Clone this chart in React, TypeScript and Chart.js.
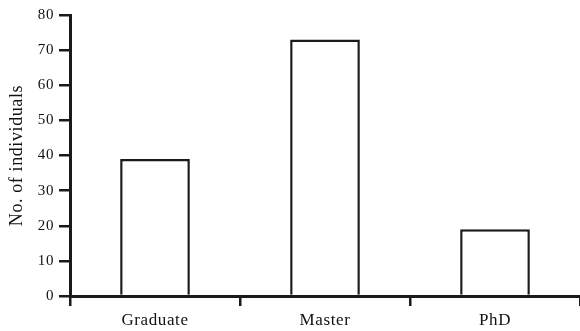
import React, { useEffect, useRef } from "react";
import { Chart, registerables } from "chart.js";

Chart.register(...registerables);

const categories = ["Graduate", "Master", "PhD"];
const counts = [39, 73, 19];
const yTicks = [0, 10, 20, 30, 40, 50, 60, 70, 80];

const spacingPlugin = {
  id: "spacing",
  beforeDraw(chart: any) {
    try {
      (chart.ctx as any).letterSpacing = "0.6px";
    } catch (e) {}
  },
};

export default function App() {
  const ref = useRef<HTMLCanvasElement | null>(null);
  useEffect(() => {
    if (!ref.current) return;
    const font = "'Liberation Serif', 'Times New Roman', serif";
    const chart = new Chart(ref.current, {
      type: "bar",
      data: {
        labels: categories,
        datasets: [
          {
            data: counts,
            backgroundColor: "#ffffff",
            borderColor: "#1a1a1a",
            borderWidth: 2.5,
            categoryPercentage: 1,
            barPercentage: 0.41,
          },
        ],
      },
      plugins: [spacingPlugin],
      options: {
        responsive: false,
        animation: false,
        devicePixelRatio: 1,
        layout: { padding: { top: 15, right: 0, left: 0, bottom: 0 } },
        plugins: { legend: { display: false }, tooltip: { enabled: false } },
        scales: {
          x: {
            grid: {
              offset: true,
              drawOnChartArea: false,
              drawTicks: true,
              tickLength: 10,
              color: "#1a1a1a",
              lineWidth: 2.5,
            },
            border: { display: true, color: "#1a1a1a", width: 3 },
            ticks: { color: "#111", font: { family: font, size: 17 }, padding: 4 },
            afterFit: (s: any) => {
              s.height = 35;
            },
          },
          y: {
            min: 0,
            max: 80,
            afterBuildTicks: (s: any) => {
              s.ticks = yTicks.map((v) => ({ value: v }));
            },
            grid: {
              drawOnChartArea: false,
              drawTicks: true,
              tickLength: 11,
              color: "#1a1a1a",
              lineWidth: 2.5,
            },
            border: { display: true, color: "#1a1a1a", width: 3 },
            ticks: { color: "#111", font: { family: font, size: 15 }, padding: 5 },
            title: {
              display: true,
              text: "No. of individuals",
              color: "#111",
              font: { family: font, size: 18 },
              padding: { top: 6, bottom: 4 },
            },
            afterFit: (s: any) => {
              s.width = 70;
            },
          },
        },
      },
    });
    return () => chart.destroy();
  }, []);
  return (
    <canvas
      ref={ref}
      width={580}
      height={331}
      style={{ position: "absolute", left: 0, top: 0, display: "block", background: "#fff" }}
    />
  );
}
